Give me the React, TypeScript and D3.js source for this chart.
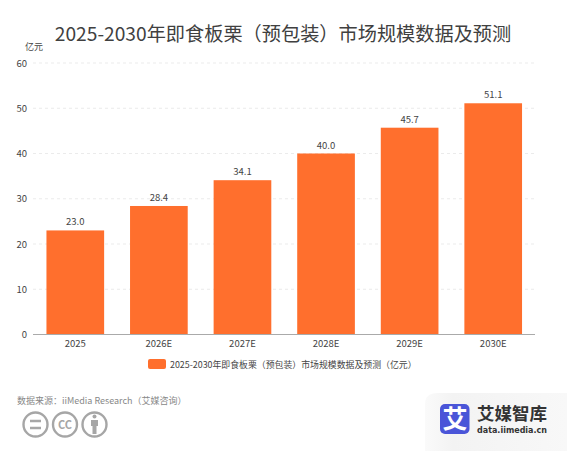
import React from "react";
import * as d3 from "d3";

const title = "2025-2030年即食板栗（预包装）市场规模数据及预测";
const categories = ["2025", "2026E", "2027E", "2028E", "2029E", "2030E"];
const values = [23.0, 28.4, 34.1, 40.0, 45.7, 51.1];
const yTicks = [0, 10, 20, 30, 40, 50, 60];
const legendLabel = "2025-2030年即食板栗（预包装）市场规模数据及预测（亿元）";
const unit = "亿元";
const source = "数据来源：iiMedia Research（艾媒咨询）";

const FONT = "'Noto Sans CJK SC','Noto Sans',sans-serif";
const ORANGE = "#ff6f2d";

export default function App() {
  const x = d3.scaleBand<string>().domain(categories).range([33.5, 535]).paddingInner(0.31).paddingOuter(0.155);
  const y = d3.scaleLinear().domain([0, 60]).range([334.5, 63]);
  return (
    <svg width={567} height={451} viewBox="0 0 567 451" style={{ position: "absolute", left: 0, top: 0, fontFamily: FONT }}>
      <rect width={567} height={451} fill="#fff" />
      <text x={283} y={41} textAnchor="middle" fontSize={19.2} fill="#404040">{title}</text>
      <text x={34} y={50} textAnchor="middle" fontSize={9} fill="#444">{unit}</text>
      {yTicks.map((t) => (
        <g key={t}>
          {t > 0 && <line x1={33} x2={535} y1={y(t)} y2={y(t)} stroke="#e6e6e6" strokeWidth={0.8} strokeDasharray="3 3" />}
          <text x={27} y={y(t) + 3.5} textAnchor="end" fontSize={9.5} fill="#444">{t}</text>
        </g>
      ))}
      {categories.map((c, i) => (
        <g key={c}>
          <rect x={x(c)} y={y(values[i])} width={x.bandwidth()} height={y(0) - y(values[i])} fill={ORANGE} />
          <text x={x(c)! + x.bandwidth() / 2} y={y(values[i]) - 5} textAnchor="middle" fontSize={9.5} fill="#444">{values[i].toFixed(1)}</text>
          <text x={x(c)! + x.bandwidth() / 2} y={347} textAnchor="middle" fontSize={9.5} fill="#444">{c}</text>
        </g>
      ))}
      <line x1={33} x2={535} y1={y(0)} y2={y(0)} stroke="#aaa" strokeWidth={1} />
      <rect x={148} y={359} width={18} height={10} rx={2} fill={ORANGE} />
      <text x={170} y={367.5} fontSize={8.9} fill="#444">{legendLabel}</text>
      <text x={17} y={404} fontSize={9} fill="#888">{source}</text>
      <g fill="none" stroke="#a6a6a6" strokeWidth={2.4}>
        <circle cx={35.5} cy={424.5} r={12} />
        <circle cx={65} cy={424.5} r={12} />
        <circle cx={94.5} cy={424.5} r={12} />
        <path d="M30 421h11M30 428h11" />
      </g>
      <text x={65} y={428.5} textAnchor="middle" fontSize={11} fontWeight={700} fill="#a6a6a6">CC</text>
      <circle cx={94.5} cy={416.5} r={2} fill="#a6a6a6" />
      <path d="M91 420h7v6h-1.5v8h-4v-8H91Z" fill="#a6a6a6" />
      <defs>
        <linearGradient id="corner" x1="0" y1="0" x2="1" y2="0">
          <stop offset="0" stopColor="#fafafa" />
          <stop offset="0.2" stopColor="#f3f3f3" />
          <stop offset="1" stopColor="#f8f8f8" />
        </linearGradient>
      </defs>
      <path d="M425 451V404Q425 393 438 393H567V451Z" fill="url(#corner)" />
      <rect x={440} y={404} width={29.5} height={30} rx={5} fill="#4a55d8" />
      <text x={455} y={428} textAnchor="middle" fontSize={25} fontWeight={700} fill="#fff">艾</text>
      <text x={477} y={419.5} fontSize={17.5} fontWeight={700} fill="#333">艾媒智库</text>
      <text x={477} y={433} fontSize={9} fontWeight={700} fill="#333" fontFamily="'DejaVu Sans',sans-serif" textLength={70} lengthAdjust="spacingAndGlyphs">data.iimedia.cn</text>
    </svg>
  );
}
